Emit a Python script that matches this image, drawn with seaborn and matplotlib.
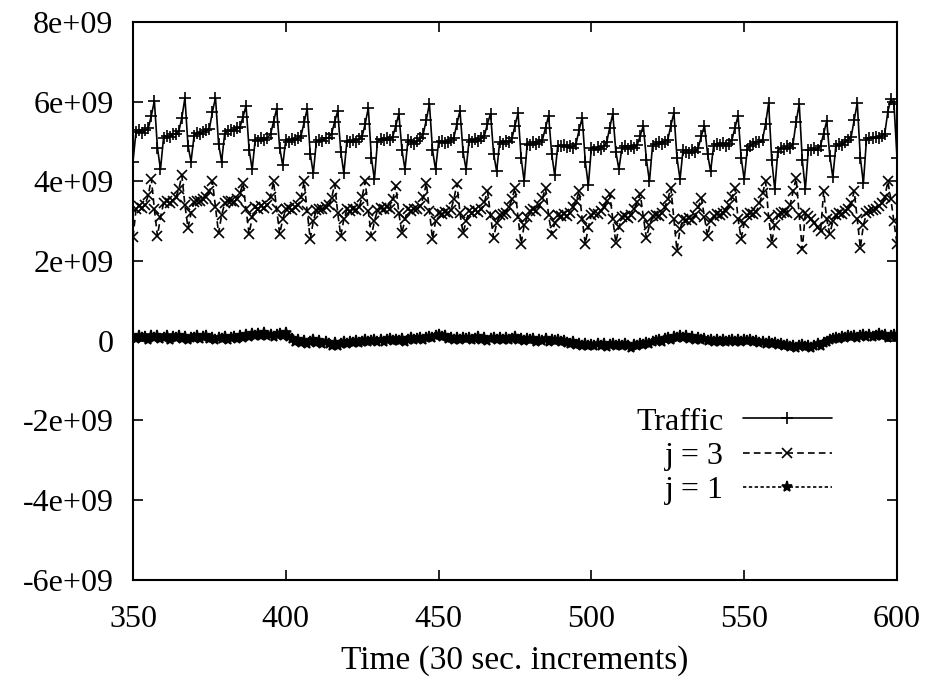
import numpy as np
import pandas as pd
import seaborn as sns
import matplotlib
matplotlib.use('Agg')
import matplotlib.pyplot as plt

# time steps (30 sec. increments), one value per step
time = np.arange(350, 601)

# values in units of 1e9
traffic = [
    4.50, 5.25, 5.30, 5.22, 5.28, 5.33, 5.65, 6.02, 4.85, 4.30,
    5.10, 5.15, 5.12, 5.18, 5.20, 5.26, 5.60, 6.10, 4.90, 4.50,
    5.15, 5.22, 5.18, 5.25, 5.28, 5.32, 5.75, 6.10, 4.95, 4.50,
    5.20, 5.26, 5.30, 5.27, 5.33, 5.36, 5.62, 5.90, 4.80, 4.30,
    5.05, 5.02, 5.08, 5.04, 5.10, 5.18, 5.50, 5.82, 4.85, 4.40,
    5.05, 5.00, 5.06, 5.03, 5.08, 5.15, 5.48, 5.82, 4.70, 4.20,
    5.00, 5.05, 5.02, 5.08, 5.10, 5.20, 5.50, 5.77, 4.75, 4.20,
    5.02, 4.98, 5.04, 5.00, 5.06, 5.14, 5.45, 5.85, 4.60, 4.05,
    5.00, 5.06, 5.03, 5.08, 5.05, 5.12, 5.40, 5.70, 4.80, 4.30,
    5.05, 5.00, 4.95, 5.02, 5.08, 5.20, 5.55, 5.95, 4.80, 4.30,
    4.98, 5.02, 4.96, 5.00, 5.05, 5.10, 5.45, 5.77, 4.75, 4.30,
    5.05, 5.00, 5.06, 5.02, 5.08, 5.15, 5.45, 5.70, 4.70, 4.25,
    5.00, 4.95, 5.02, 4.98, 5.08, 5.40, 5.72, 4.60, 4.00, 4.95,
    4.92, 4.98, 4.94, 5.00, 5.05, 5.35, 5.65, 4.70, 4.15, 4.90,
    4.88, 4.92, 4.86, 4.90, 4.85, 4.95, 5.30, 5.60, 4.50, 3.90,
    4.85, 4.80, 4.86, 4.82, 4.88, 4.98, 5.35, 5.70, 4.75, 4.30,
    4.85, 4.90, 4.82, 4.88, 4.84, 4.92, 5.15, 5.40, 4.55, 4.00,
    4.90, 4.95, 4.98, 4.94, 5.00, 5.05, 5.40, 5.72, 4.60, 4.05,
    4.80, 4.75, 4.72, 4.78, 4.74, 4.85, 5.15, 5.40, 4.70, 4.25,
    4.90, 4.95, 4.92, 4.96, 4.90, 4.95, 5.05, 5.35, 5.65, 4.60,
    4.05, 4.80, 4.90, 4.95, 4.98, 5.00, 5.05, 5.45, 5.97, 4.55,
    3.80, 4.75, 4.85, 4.82, 4.88, 4.85, 4.95, 5.50, 5.95, 4.55,
    3.80, 4.80, 4.78, 4.84, 4.80, 4.90, 5.20, 5.52, 4.65, 4.10,
    4.90, 4.95, 4.92, 5.00, 5.05, 5.12, 5.55, 5.97, 4.60, 3.95,
    5.05, 5.10, 5.08, 5.12, 5.10, 5.15, 5.20, 5.75, 6.07, 5.95, 4.60,
]

j3 = [
    2.60, 3.30, 3.38, 3.34, 3.42, 3.65, 4.07, 3.30, 2.63, 3.10,
    3.45, 3.50, 3.46, 3.52, 3.60, 3.80, 4.15, 3.40, 2.83, 3.20,
    3.48, 3.52, 3.50, 3.55, 3.62, 3.75, 4.00, 3.35, 2.70, 3.15,
    3.45, 3.50, 3.52, 3.48, 3.55, 3.70, 3.96, 3.30, 2.68, 3.10,
    3.35, 3.32, 3.38, 3.34, 3.42, 3.62, 4.00, 3.30, 2.68, 3.05,
    3.30, 3.34, 3.28, 3.35, 3.40, 3.60, 4.00, 3.25, 2.55, 3.00,
    3.28, 3.32, 3.30, 3.36, 3.40, 3.58, 3.94, 3.20, 2.63, 3.05,
    3.30, 3.26, 3.32, 3.28, 3.35, 3.62, 4.00, 3.25, 2.63, 3.00,
    3.28, 3.34, 3.30, 3.36, 3.32, 3.55, 3.89, 3.20, 2.70, 3.05,
    3.30, 3.26, 3.32, 3.30, 3.38, 3.60, 3.96, 3.25, 2.56, 3.00,
    3.22, 3.18, 3.24, 3.20, 3.28, 3.55, 3.94, 3.20, 2.70, 3.00,
    3.25, 3.22, 3.28, 3.24, 3.30, 3.48, 3.76, 3.15, 2.58, 2.95,
    3.15, 3.18, 3.22, 3.35, 3.55, 3.84, 3.10, 2.43, 2.90, 3.10,
    3.25, 3.30, 3.26, 3.40, 3.58, 3.84, 3.15, 2.68, 2.95, 3.15,
    3.12, 3.18, 3.14, 3.20, 3.35, 3.50, 3.76, 3.05, 2.43, 2.85,
    3.15, 3.20, 3.18, 3.25, 3.35, 3.50, 3.69, 3.05, 2.46, 2.85,
    3.10, 3.14, 3.08, 3.15, 3.30, 3.48, 3.69, 3.10, 2.58, 2.90,
    3.12, 3.16, 3.14, 3.20, 3.35, 3.55, 3.84, 3.05, 2.26, 2.80,
    3.05, 3.02, 3.08, 3.04, 3.15, 3.35, 3.59, 3.10, 2.63, 3.00,
    3.12, 3.18, 3.15, 3.20, 3.25, 3.40, 3.60, 3.84, 3.05, 2.56,
    2.95, 3.15, 3.20, 3.18, 3.24, 3.45, 3.70, 4.00, 3.10, 2.46,
    2.90, 3.15, 3.20, 3.24, 3.22, 3.40, 3.75, 4.09, 3.15, 2.30,
    3.20, 3.12, 3.05, 2.95, 2.85, 2.75, 3.76, 3.05, 2.68, 3.00,
    3.15, 3.20, 3.18, 3.25, 3.30, 3.45, 3.76, 3.05, 2.33, 2.90,
    3.20, 3.25, 3.28, 3.32, 3.38, 3.45, 3.60, 4.00, 3.55, 3.00, 2.43,
]

j1 = [
    0.10, 0.05, 0.12, 0.06, 0.09, 0.02, 0.11, 0.07, 0.13, 0.04,
    0.08, 0.12, 0.03, 0.09, 0.06, 0.11, 0.05, 0.10, 0.02, 0.08,
    0.06, 0.11, 0.04, 0.09, 0.13, 0.05, 0.07, 0.01, 0.08, 0.04,
    0.09, 0.03, 0.06, 0.10, 0.05, 0.12, 0.08, 0.14, 0.10, 0.16,
    0.12, 0.18, 0.13, 0.20, 0.11, 0.15, 0.09, 0.14, 0.17, 0.12,
    0.19, 0.10, 0.04, -0.02, 0.03, -0.05, 0.00, -0.07, -0.03, 0.02,
    -0.06, -0.01, -0.09, -0.04, -0.08, -0.12, -0.06, -0.14, -0.09, -0.04,
    -0.07, -0.02, -0.05, 0.00, -0.06, -0.03, 0.01, -0.04, -0.01, 0.03,
    -0.02, 0.02, -0.04, 0.01, 0.04, -0.01, 0.03, 0.00, 0.05, -0.02,
    0.02, 0.06, 0.01, 0.04, 0.08, 0.03, 0.07, 0.10, 0.06, 0.12,
    0.15, 0.09, 0.12, 0.05, 0.08, 0.03, 0.07, 0.01, 0.06, 0.04,
    0.08, 0.02, 0.05, 0.09, 0.03, 0.06, 0.00, 0.05, 0.08, 0.02,
    0.06, 0.03, 0.07, 0.01, 0.05, 0.09, 0.02, 0.04, 0.00, 0.05,
    0.01, 0.04, -0.02, 0.03, 0.00, 0.05, -0.03, 0.02, -0.01, 0.03,
    -0.04, 0.00, -0.06, -0.09, -0.04, -0.11, -0.07, -0.13, -0.08, -0.12,
    -0.10, -0.14, -0.07, -0.12, -0.09, -0.15, -0.11, -0.08, -0.13, -0.10,
    -0.14, -0.09, -0.12, -0.17, -0.10, -0.13, -0.08, -0.11, -0.06, -0.09,
    -0.04, -0.01, 0.02, -0.02, 0.04, 0.08, 0.03, 0.10, 0.06, 0.12,
    0.07, 0.11, 0.05, 0.09, 0.03, 0.06, 0.01, 0.04, -0.01, 0.02,
    -0.03, 0.01, -0.02, 0.03, -0.04, 0.00, 0.02, -0.03, 0.01, -0.02,
    0.02, -0.01, 0.03, -0.03, 0.00, -0.05, -0.02, -0.07, -0.04, -0.09,
    -0.06, -0.11, -0.08, -0.13, -0.10, -0.15, -0.12, -0.18, -0.14, -0.11,
    -0.16, -0.12, -0.17, -0.13, -0.09, -0.12, -0.06, -0.02, 0.02, 0.05,
    0.08, 0.04, 0.10, 0.06, 0.12, 0.09, 0.13, 0.07, 0.11, 0.14,
    0.10, 0.15, 0.09, 0.13, 0.16, 0.11, 0.14, 0.08, 0.12, 0.15, 0.10,
]

xticks = [350, 400, 450, 500, 550, 600]
yticks = [-6e9, -4e9, -2e9, 0, 2e9, 4e9, 6e9, 8e9]
ytick_labels = ['-6e+09', '-4e+09', '-2e+09', '0', '2e+09', '4e+09', '6e+09', '8e+09']

df = pd.DataFrame({
    'time': time,
    'Traffic': np.array(traffic) * 1e9,
    'j = 3': np.array(j3) * 1e9,
    'j = 1': np.array(j1) * 1e9,
})

sns.set_style('ticks')
plt.rcParams['font.family'] = ['Liberation Serif', 'DejaVu Serif']
plt.rcParams['text.color'] = 'black'
plt.rcParams['axes.labelcolor'] = 'black'

fig = plt.figure(figsize=(9.28, 6.83), dpi=100)
ax = fig.add_axes([0.1433, 0.151, 0.8233, 0.8167])

# gnuplot-like: black lines, one point type per series
common = dict(ax=ax, x='time', color='black', lw=1.2, estimator=None, errorbar=None,
              markeredgecolor='black', markeredgewidth=1.2)
sns.lineplot(data=df, y='Traffic', marker='+', markersize=9, linestyle='-', label='Traffic', **common)
sns.lineplot(data=df, y='j = 3', marker='x', markersize=6.5, linestyle=(0, (4, 2.5)), label='j = 3', **common)
sns.lineplot(data=df, y='j = 1', marker='*', markersize=8, linestyle=(0, (2, 1.5)), label='j = 1', **common)

ax.set_xlim(350, 600)
ax.set_ylim(-6e9, 8e9)
ax.set_xticks(xticks)
ax.set_yticks(yticks, ytick_labels)
ax.set_ylabel('')
ax.set_xlabel('Time (30 sec. increments)', fontsize=24, labelpad=8)

ax.tick_params(direction='in', length=7, width=1.2, top=True, right=True,
               labelsize=23, colors='black')
ax.tick_params(axis='x', pad=18)
ax.tick_params(axis='y', pad=14)
for s in ax.spines.values():
    s.set_linewidth(1.5)
    s.set_color('black')

ax.legend(loc='center right', bbox_to_anchor=(0.915, 0.222), frameon=False,
          markerfirst=False, handlelength=2.8, handletextpad=0.6,
          labelspacing=0.15, borderpad=0, borderaxespad=0, fontsize=23)

fig.savefig('out.png', dpi=100)
